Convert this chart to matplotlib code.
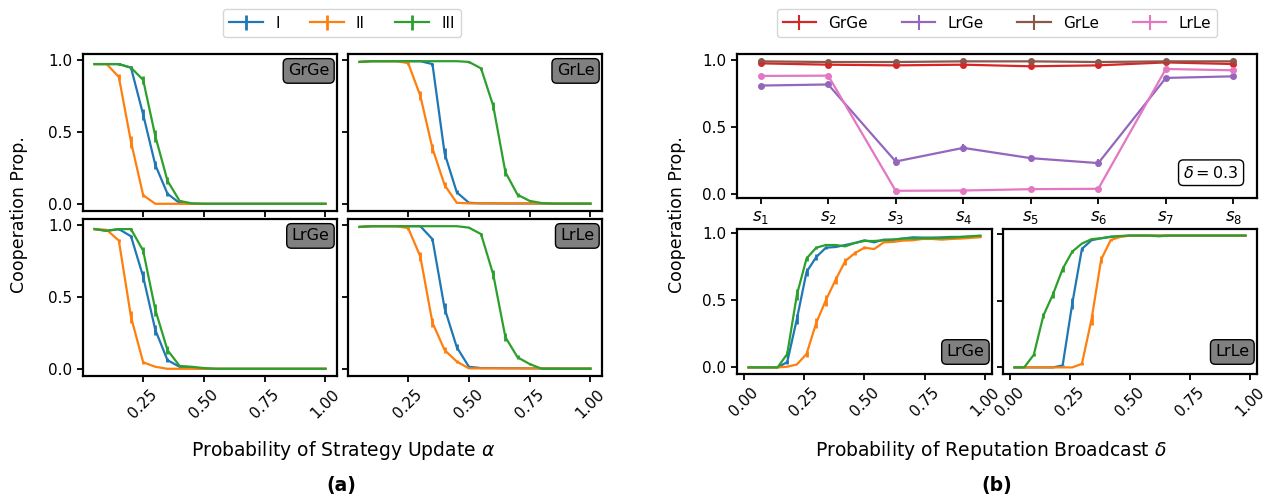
import matplotlib
matplotlib.use("Agg")
import matplotlib.pyplot as plt

W, H = 1276, 500

# ---- data, panel (a): x = probability of strategy update alpha
alpha = [0.05, 0.10, 0.15, 0.20, 0.25, 0.30, 0.35, 0.40, 0.45, 0.50,
         0.55, 0.60, 0.65, 0.70, 0.75, 0.80, 0.85, 0.90, 0.95, 1.00]
strategies = ["I", "II", "III"]

grge_I = [0.97, 0.97, 0.97, 0.945, 0.62, 0.27, 0.07, 0.005, 0, 0, 0, 0, 0, 0, 0, 0, 0, 0, 0, 0]
grge_II = [0.97, 0.97, 0.88, 0.43, 0.06, 0.0, 0, 0, 0, 0, 0, 0, 0, 0, 0, 0, 0, 0, 0, 0]
grge_III = [0.97, 0.97, 0.97, 0.945, 0.86, 0.47, 0.16, 0.02, 0.003, 0, 0, 0, 0, 0, 0, 0, 0, 0, 0, 0]

grle_I = [0.985, 0.99, 0.99, 0.99, 0.99, 0.99, 0.97, 0.35, 0.08, 0.007, 0.003, 0.003, 0.002, 0.002, 0.002, 0.002, 0.001, 0.001, 0.001, 0.001]
grle_II = [0.985, 0.99, 0.99, 0.99, 0.977, 0.75, 0.385, 0.13, 0.007, 0.003, 0.003, 0.003, 0.003, 0.003, 0.002, 0.002, 0.002, 0.001, 0.001, 0.001]
grle_III = [0.985, 0.99, 0.99, 0.99, 0.99, 0.99, 0.99, 0.99, 0.99, 0.985, 0.94, 0.68, 0.22, 0.063, 0.02, 0.005, 0.001, 0.001, 0.001, 0.001]

lrge_I = [0.97, 0.958, 0.97, 0.92, 0.64, 0.27, 0.06, 0.014, 0.005, 0, 0, 0, 0, 0, 0, 0, 0, 0, 0, 0]
lrge_II = [0.97, 0.965, 0.89, 0.36, 0.045, 0.014, 0.0, 0, 0, 0, 0, 0, 0, 0, 0, 0, 0, 0, 0, 0]
lrge_III = [0.97, 0.958, 0.97, 0.97, 0.82, 0.41, 0.13, 0.02, 0.014, 0.005, 0, 0, 0, 0, 0, 0, 0, 0, 0, 0]

lrle_I = [0.985, 0.99, 0.99, 0.99, 0.99, 0.99, 0.90, 0.42, 0.15, 0.014, 0.005, 0.005, 0.004, 0.004, 0.003, 0.003, 0.003, 0.002, 0.002, 0.002]
lrle_II = [0.985, 0.99, 0.99, 0.99, 0.977, 0.78, 0.32, 0.13, 0.05, 0.003, 0.003, 0.003, 0.003, 0.003, 0.003, 0.003, 0.002, 0.002, 0.002, 0.002]
lrle_III = [0.985, 0.99, 0.99, 0.99, 0.99, 0.99, 0.99, 0.99, 0.99, 0.98, 0.935, 0.655, 0.22, 0.08, 0.033, 0.0, 0, 0, 0, 0]

# error bars (half widths), panel (a)
err_a_grge = [[0, 0, 0.005, 0.01, 0.04, 0.03, 0.015, 0.003] + [0] * 12,
              [0, 0, 0.02, 0.04, 0.01] + [0] * 15,
              [0, 0, 0.005, 0.01, 0.025, 0.04, 0.025, 0.008] + [0] * 12]
err_a_grle = [[0] * 6 + [0.01, 0.04, 0.015] + [0] * 11,
              [0] * 4 + [0.01, 0.03, 0.03, 0.02] + [0] * 12,
              [0] * 9 + [0.005, 0.01, 0.03, 0.03, 0.015, 0.005] + [0] * 5]
err_a_lrge = [[0, 0, 0.005, 0.01, 0.04, 0.035, 0.015, 0.003] + [0] * 12,
              [0, 0, 0.01, 0.04, 0.01] + [0] * 15,
              [0, 0, 0.005, 0.01, 0.025, 0.04, 0.025, 0.005] + [0] * 12]
err_a_lrle = [[0] * 6 + [0.01, 0.04, 0.02, 0.005] + [0] * 10,
              [0] * 4 + [0.01, 0.03, 0.03, 0.02, 0.01] + [0] * 11,
              [0] * 9 + [0.005, 0.01, 0.03, 0.03, 0.015, 0.008] + [0] * 5]

# ---- data, panel (b) top: s1..s8 at delta = 0.3
settings = ["$s_1$", "$s_2$", "$s_3$", "$s_4$", "$s_5$", "$s_6$", "$s_7$", "$s_8$"]
modes = ["GrGe", "LrGe", "GrLe", "LrLe"]
s_grge = [0.978, 0.968, 0.963, 0.968, 0.956, 0.963, 0.985, 0.973]
s_lrge = [0.812, 0.82, 0.244, 0.346, 0.269, 0.232, 0.869, 0.881]
s_grle = [0.993, 0.988, 0.988, 0.993, 0.993, 0.988, 0.993, 0.993]
s_lrle = [0.884, 0.886, 0.025, 0.027, 0.037, 0.04, 0.936, 0.926]
s_err = [[0.01] * 8,
         [0.015, 0.015, 0.03, 0.03, 0.025, 0.03, 0.01, 0.01],
         [0.006] * 8,
         [0.01, 0.01, 0.005, 0.005, 0.005, 0.005, 0.01, 0.01]]

# ---- data, panel (b) bottom: x = probability of reputation broadcast delta
delta = [0.02, 0.06, 0.10, 0.14, 0.18, 0.22, 0.26, 0.30, 0.34, 0.38, 0.42, 0.46, 0.50,
         0.54, 0.58, 0.62, 0.66, 0.70, 0.74, 0.78, 0.82, 0.86, 0.90, 0.94, 0.98]

d_lrge_I = [0, 0, 0, 0, 0.04, 0.36, 0.71, 0.82, 0.89, 0.895, 0.91, 0.925, 0.945,
            0.93, 0.95, 0.95, 0.958, 0.967, 0.965, 0.965, 0.967, 0.97, 0.97, 0.972, 0.975]
d_lrge_II = [0, 0, 0, 0, 0.005, 0.022, 0.10, 0.33, 0.50, 0.65, 0.79, 0.85, 0.89,
             0.88, 0.93, 0.933, 0.943, 0.945, 0.955, 0.955, 0.95, 0.955, 0.958, 0.963, 0.968]
d_lrge_III = [0, 0, 0, 0, 0.10, 0.54, 0.81, 0.89, 0.91, 0.91, 0.90, 0.925, 0.94,
              0.94, 0.945, 0.95, 0.958, 0.958, 0.96, 0.96, 0.962, 0.965, 0.97, 0.975, 0.98]

d_lrle_I = [0, 0, 0, 0, 0, 0.015, 0.48, 0.89, 0.955, 0.97, 0.98, 0.985, 0.99,
            0.99, 0.99, 0.99, 0.99, 0.99, 0.99, 0.99, 0.99, 0.99, 0.99, 0.99, 0.99]
d_lrle_II = [0, 0, 0, 0, 0, 0, 0, 0.027, 0.36, 0.81, 0.957, 0.98, 0.99,
             0.99, 0.99, 0.99, 0.99, 0.99, 0.99, 0.99, 0.99, 0.99, 0.99, 0.99, 0.99]
d_lrle_III = [0, 0, 0.095, 0.39, 0.55, 0.74, 0.87, 0.93, 0.963, 0.97, 0.982, 0.987, 0.99,
              0.99, 0.99, 0.985, 0.99, 0.99, 0.99, 0.99, 0.99, 0.99, 0.99, 0.99, 0.99]

err_b_lrge = [[0] * 4 + [0.015, 0.04, 0.03, 0.02, 0.01] + [0] * 16,
              [0] * 6 + [0.02, 0.04, 0.04, 0.03, 0.025, 0.015, 0.01] + [0] * 12,
              [0] * 4 + [0.02, 0.04, 0.02, 0.01] + [0] * 17]
err_b_lrle = [[0] * 5 + [0.005, 0.04, 0.015] + [0] * 17,
              [0] * 7 + [0.01, 0.04, 0.025, 0.01] + [0] * 14,
              [0] * 2 + [0.01, 0.02, 0.025, 0.02, 0.01] + [0] * 18]

cols_a = ["tab:blue", "tab:orange", "tab:green"]
cols_b = ["tab:red", "tab:purple", "tab:brown", "tab:pink"]


def px_axes(l, r, t, b):
    return fig.add_axes([l / W, 1 - b / H, (r - l) / W, (b - t) / H])


def tag(ax, txt, top=True):
    y, va = (0.94, "top") if top else (0.1, "bottom")
    ax.text(0.97, y, txt, transform=ax.transAxes, ha="right", va=va, fontsize=11.5,
            bbox=dict(boxstyle="round,pad=0.3", fc="gray", ec="black", lw=1))


def style(ax):
    for sp in ax.spines.values():
        sp.set_linewidth(1.6)
    ax.tick_params(labelsize=11, width=1.3, length=4)


fig = plt.figure(figsize=(W / 100, H / 100), dpi=100)

# ---- panel (a)
panels_a = [
    ((83, 337, 54, 211), "GrGe", [grge_I, grge_II, grge_III], err_a_grge),
    ((348, 602, 54, 211), "GrLe", [grle_I, grle_II, grle_III], err_a_grle),
    ((83, 337, 219, 376), "LrGe", [lrge_I, lrge_II, lrge_III], err_a_lrge),
    ((348, 602, 219, 376), "LrLe", [lrle_I, lrle_II, lrle_III], err_a_lrle),
]
handles_a = None
for i, (box, name, series, errs) in enumerate(panels_a):
    ax = px_axes(*box)
    hs = []
    for ys, e, c, lab in zip(series, errs, cols_a, strategies):
        h = ax.errorbar(alpha, ys, yerr=e, color=c, lw=1.6, elinewidth=2, label=lab)
        hs.append(h)
    if handles_a is None:
        handles_a = hs
    tag(ax, name, top=True)
    ax.set_ylim(-0.05, 1.04)
    ax.set_yticks([0, 0.5, 1.0])
    ax.set_xticks([0.25, 0.5, 0.75, 1.0])
    if i % 2 == 1:
        ax.set_yticklabels([])
    if i < 2:
        ax.set_xticklabels([])
    else:
        ax.set_xticklabels(["0.25", "0.50", "0.75", "1.00"], rotation=45)
    style(ax)

fig.legend(handles_a, strategies, loc="center", bbox_to_anchor=(342 / W, 1 - 23 / H),
           ncol=3, fontsize=11, columnspacing=2.0, handlelength=2.2)
fig.text(19 / W, 1 - 215 / H, "Cooperation Prop.", rotation=90, ha="center", va="center", fontsize=12.5)
fig.text(343 / W, 1 - 450 / H, r"Probability of Strategy Update $\alpha$", ha="center", va="center", fontsize=13.5)
fig.text(341 / W, 1 - 486 / H, "(a)", ha="center", va="center", fontsize=13.5, fontweight="bold")

# ---- panel (b) top
ax = px_axes(737, 1257, 54, 198)
pos = list(range(len(settings)))
handles_b = []
for ys, e, c, lab in zip([s_grge, s_lrge, s_grle, s_lrle], s_err, cols_b, modes):
    h = ax.errorbar(pos, ys, yerr=e, color=c, lw=1.6, elinewidth=1.5, label=lab)
    ax.plot(pos, ys, "o", color=c, ms=4)
    handles_b.append(h)
ax.set_xticks(pos)
ax.set_yticks([0, 0.5, 1.0])
style(ax)
ax.set_xticklabels(settings, fontsize=12)
ax.text(0.965, 0.12, r"$\delta = 0.3$", transform=ax.transAxes, ha="right", va="bottom", fontsize=11.5,
        bbox=dict(boxstyle="round,pad=0.3", fc="white", ec="black", lw=1))

fig.legend(handles_b, modes, loc="center", bbox_to_anchor=(997 / W, 1 - 23 / H),
           ncol=4, fontsize=11, columnspacing=2.2, handlelength=2.2)

# ---- panel (b) bottom
panels_b = [
    ((737, 992, 229, 374), "LrGe", [d_lrge_I, d_lrge_II, d_lrge_III], err_b_lrge),
    ((1003, 1257, 229, 374), "LrLe", [d_lrle_I, d_lrle_II, d_lrle_III], err_b_lrle),
]
for i, (box, name, series, errs) in enumerate(panels_b):
    ax = px_axes(*box)
    for ys, e, c in zip(series, errs, cols_a):
        ax.errorbar(delta, ys, yerr=e, color=c, lw=1.6, elinewidth=2)
    tag(ax, name, top=False)
    ax.set_yticks([0, 0.5, 1.0])
    ax.set_xticks([0, 0.25, 0.5, 0.75, 1.0])
    ax.set_xticklabels(["0.00", "0.25", "0.50", "0.75", "1.00"], rotation=45)
    if i == 1:
        ax.set_yticklabels([])
    style(ax)

fig.text(677 / W, 1 - 215 / H, "Cooperation Prop.", rotation=90, ha="center", va="center", fontsize=12.5)
fig.text(991 / W, 1 - 450 / H, r"Probability of Reputation Broadcast $\delta$", ha="center", va="center", fontsize=13.5)
fig.text(997 / W, 1 - 486 / H, "(b)", ha="center", va="center", fontsize=13.5, fontweight="bold")

fig.savefig("out.png", dpi=100)
